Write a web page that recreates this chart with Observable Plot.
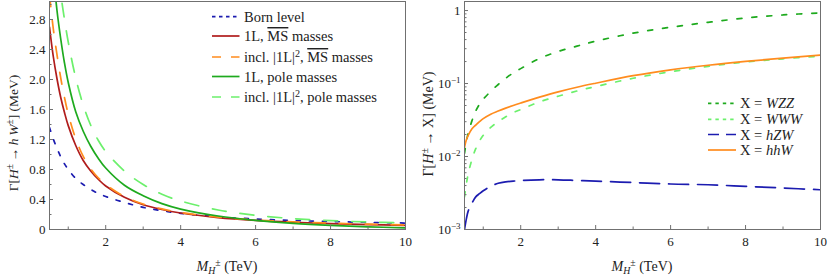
<!DOCTYPE html>
<html><head><meta charset="utf-8">
<script src="https://cdn.jsdelivr.net/npm/d3@7"></script>
<script src="https://cdn.jsdelivr.net/npm/@observablehq/plot@0.6"></script>
<style>
body{margin:0;background:#fff;}
#wrap{display:flex;width:830px;height:279px;}
svg{overflow:visible;}
svg text{font-family:"Liberation Serif","Times New Roman",serif;}
</style></head><body><div id="wrap"></div>
<script>
// ---------- Left panel data: Gamma[H+ -> h W+] (MeV) vs M_H+ (TeV) ----------
const massL = [0.5,0.6,0.7,0.8,0.9,1.0,1.2,1.4,1.6,1.8,2.0,2.5,3.0,3.5,4.0,5,6,7,8,9,10];
const bornLevel  = [1.36,1.21,1.08,0.97,0.875,0.80,0.68,0.60,0.535,0.48,0.44,0.36,0.295,0.25,0.215,0.168,0.14,0.12,0.106,0.095,0.086];
const oneLoopMS  = [2.70,2.31,2.01,1.76,1.56,1.385,1.12,0.92,0.78,0.67,0.58,0.43,0.33,0.267,0.22,0.159,0.122,0.097,0.079,0.066,0.056];
const inclSqMS   = [3.13,2.68,2.33,2.02,1.76,1.54,1.21,0.975,0.81,0.69,0.60,0.44,0.34,0.275,0.227,0.165,0.128,0.103,0.085,0.071,0.061];
const oneLoopPole= [4.40,3.45,2.92,2.54,2.22,1.96,1.57,1.31,1.11,0.95,0.82,0.59,0.45,0.345,0.272,0.18,0.122,0.082,0.055,0.036,0.022];
const inclSqPole = [6.00,4.60,3.70,3.15,2.80,2.50,2.02,1.66,1.39,1.19,1.04,0.78,0.60,0.47,0.38,0.26,0.19,0.145,0.118,0.10,0.088];

// ---------- Right panel data: Gamma[H+ -> X] (MeV) ----------
const massR = [0.5,0.55,0.6,0.7,0.8,0.9,1.0,1.2,1.4,1.6,1.8,2,2.5,3,3.5,4,5,6,7,8,9,10];
const xWZZ = [0.011,0.016,0.021,0.031,0.042,0.052,0.061,0.078,0.097,0.118,0.14,0.16,0.22,0.275,0.325,0.38,0.49,0.59,0.69,0.79,0.87,0.93];
const xWWW = [0.0028,0.0042,0.0058,0.0092,0.0128,0.0163,0.0195,0.025,0.030,0.035,0.040,0.044,0.056,0.067,0.079,0.091,0.118,0.145,0.172,0.197,0.218,0.237];
const xhZW = [0.001,0.0014,0.0018,0.0023,0.0028,0.0031,0.0034,0.0039,0.0043,0.0045,0.0046,0.0047,0.0048,0.0048,0.0047,0.0046,0.0044,0.0042,0.0041,0.0039,0.0037,0.0035];
const xhhW = [0.0134,0.017,0.0195,0.024,0.027,0.030,0.033,0.038,0.042,0.046,0.050,0.054,0.065,0.077,0.089,0.101,0.128,0.154,0.178,0.201,0.223,0.245];

// ---------- ticks ----------
const xMajor = [2,4,6,8,10];
const xMinor = [1,3,5,7,9];
const yMajorL = [0,0.4,0.8,1.2,1.6,2.0,2.4,2.8];
const yMinorL = [0.2,0.6,1.0,1.4,1.8,2.2,2.6,3.0];
const yMajorR = [0.001,0.01,0.1,1];
const yMinorR = [0.002,0.003,0.004,0.005,0.006,0.007,0.008,0.009,
                 0.02,0.03,0.04,0.05,0.06,0.07,0.08,0.09,
                 0.2,0.3,0.4,0.5,0.6,0.7,0.8,0.9];

// legend labels
const legendL = ["Born level","1L, MS masses","incl. |1L|2, MS masses","1L, pole masses","incl. |1L|2, pole masses"];
const legendR = ["WZZ","WWW","hZW","hhW"];

const W = 415, H = 279, mL = 49, mR = 10, mT = 1, mB = 50;
const innerW = W - mL - mR, innerH = H - mT - mB;
const FRAME = "#707070";
const FONT = '"Liberation Serif","Times New Roman",serif';
const C = {blue:"#1c1cb0", red:"#b01c1c", orange:"#ff8c1e", green:"#1eaa1e", lgreen:"#6cf06c"};

function rows(xs, ys){ return xs.map((x,i)=>({x, y: ys[i]})); }

const seriesL = [
  {ys: bornLevel,  color: C.blue,   dash: "4,9",   ldash: "3.5,3.5"},
  {ys: oneLoopMS,  color: C.red,    dash: null,    ldash: null},
  {ys: inclSqMS,   color: C.orange, dash: "12,14", ldash: "9,10"},
  {ys: oneLoopPole,color: C.green,  dash: null,    ldash: null},
  {ys: inclSqPole, color: C.lgreen, dash: "14,14", ldash: "9,10"}
];
const seriesR = [
  {ys: xWZZ, color: C.green,  dash: "5,10", ldash: "3.4,4"},
  {ys: xWWW, color: C.lgreen, dash: "5,10", ldash: "3.4,4"},
  {ys: xhZW, color: C.blue,   dash: "20,9", ldash: "11,7"},
  {ys: xhhW, color: C.orange, dash: null,   ldash: null}
];

function lineMarks(xs, series){
  return series.map(s => Plot.line(rows(xs, s.ys), {
    x: "x", y: "y", stroke: s.color, strokeWidth: 1.7,
    strokeDasharray: s.dash || undefined, curve: "catmull-rom", clip: true
  }));
}

function tickMarks(major, minor, yMaj, yMin){
  return [
    Plot.tickX(major, {x: d=>d, insetTop: innerH - 4, stroke: FRAME}),
    Plot.tickX(minor, {x: d=>d, insetTop: innerH - 2.5, stroke: FRAME}),
    Plot.tickY(yMaj, {y: d=>d, insetRight: innerW - 4, stroke: FRAME}),
    Plot.tickY(yMin, {y: d=>d, insetRight: innerW - 2.5, stroke: FRAME})
  ];
}

const baseStyle = {fontFamily: FONT, fontSize: "13px", color: "#222", background: "#fff"};

const left = Plot.plot({
  width: W, height: H, marginLeft: mL, marginRight: mR, marginTop: mT, marginBottom: mB,
  style: baseStyle,
  x: {domain: [0.5, 10]},
  y: {domain: [0, 3.04]},
  marks: [
    ...lineMarks(massL, seriesL),
    ...tickMarks(xMajor, xMinor, yMajorL, yMinorL),
    Plot.frame({stroke: FRAME}),
    Plot.axisX(xMajor, {tickSize: 0, tickPadding: 7, label: null, tickFormat: d => String(d)}),
    Plot.axisY(yMajorL, {tickSize: 0, tickPadding: 4, label: null, tickFormat: d => d === 0 ? "0" : d.toFixed(1)})
  ]
});

const right = Plot.plot({
  width: W, height: H, marginLeft: mL, marginRight: mR, marginTop: mT, marginBottom: mB,
  style: baseStyle,
  x: {domain: [0.5, 10]},
  y: {type: "log", domain: [0.001, 1.33]},
  marks: [
    ...lineMarks(massR, seriesR),
    ...tickMarks(xMajor, xMinor, yMajorR, yMinorR),
    Plot.frame({stroke: FRAME}),
    Plot.axisX(xMajor, {tickSize: 0, tickPadding: 7, label: null, tickFormat: d => String(d)}),
    Plot.axisY(yMajorR, {tickSize: 0, tickPadding: 4, label: null,
      tickFormat: d => d === 1 ? "1" : "10^" + Math.round(Math.log10(d))})
  ]
});

document.getElementById("wrap").append(left, right);

// ---------- rich text helper ----------
function rich(sel, segs, size){
  let shift = 0;
  for (const s of segs){
    const target = s.sup ? -5 : s.sub ? 3 : 0;
    const ts = sel.append("tspan").text(s.t);
    if (target !== shift){ ts.attr("dy", target - shift); shift = target; }
    if (s.i) ts.attr("font-style", "italic");
    if (s.sup || s.sub) ts.attr("font-size", size * 0.7);
    if (s.over) ts.style("text-decoration", "overline");
  }
  return sel;
}

function addText(svg, x, y, segs, opts = {}){
  const size = opts.size || 13;
  const t = d3.select(svg).append("text")
    .attr("x", x).attr("y", y)
    .attr("font-family", FONT)
    .attr("font-size", size).attr("fill", "#222")
    .attr("text-anchor", opts.anchor || "start");
  if (opts.rotate) t.attr("transform", `rotate(-90 ${x} ${y})`);
  rich(t, segs, size);
  return t;
}

// log tick labels with superscripts
d3.select(right).selectAll("text").each(function(){
  const s = this.textContent;
  const m = /^10\^(-?\d+)$/.exec(s);
  if (m){
    const el = d3.select(this); el.text("");
    el.append("tspan").text("10");
    el.append("tspan").attr("dy", -5).attr("font-size", 9).text(m[1].replace("-", "\u2212"));
  }
});

// axis titles
const mLabel = [{t:"M", i:true},{t:"H", i:true, sub:true},{t:"±", sup:true},{t:" (TeV)"}];
addText(left, 227, 271, mLabel, {anchor: "middle", size: 14});
addText(right, 227, 271, mLabel, {anchor: "middle", size: 14});
addText(left, 18, 133, [{t:"Γ["},{t:"H", i:true},{t:"±", sup:true},{t:"\u2009→\u2009"},{t:"h\u2009W", i:true},{t:"±", sup:true},{t:"] (MeV)"}], {anchor:"middle", rotate:true, size: 13.5});
addText(right, 18, 124, [{t:"Γ["},{t:"H", i:true},{t:"±", sup:true},{t:"\u2009→ X] (MeV)"}], {anchor:"middle", rotate:true, size: 14});

// ---------- legends ----------
function legendLine(svg, x1, x2, y, s){
  d3.select(svg).append("line").attr("x1", x1).attr("x2", x2).attr("y1", y).attr("y2", y)
    .attr("stroke", s.color).attr("stroke-width", 1.7)
    .attr("stroke-dasharray", s.ldash || null);
}
const legLRows = [16.7, 36, 57, 76.5, 97];
const legLSegs = [
  [{t: legendL[0]}],
  [{t: "1L, "},{t: "MS", over: true},{t: " masses"}],
  [{t: "incl. |1L|"},{t: "2", sup: true},{t: ", "},{t: "MS", over: true},{t: " masses"}],
  [{t: legendL[3]}],
  [{t: "incl. |1L|"},{t: "2", sup: true},{t: ", pole masses"}]
];
seriesL.forEach((s, i) => {
  legendLine(left, 212, 239.5, legLRows[i], s);
  addText(left, 244, legLRows[i] + 5, legLSegs[i], {size: 14.5});
});
const legRRows = [103.3, 119.3, 134.5, 150];
seriesR.forEach((s, i) => {
  legendLine(right, 708 - 415, 736 - 415, legRRows[i], s);
  addText(right, 740 - 415, legRRows[i] + 5, [{t:"X = "},{t: legendR[i], i:true}], {size: 14.5});
});
</script>
</body></html>
